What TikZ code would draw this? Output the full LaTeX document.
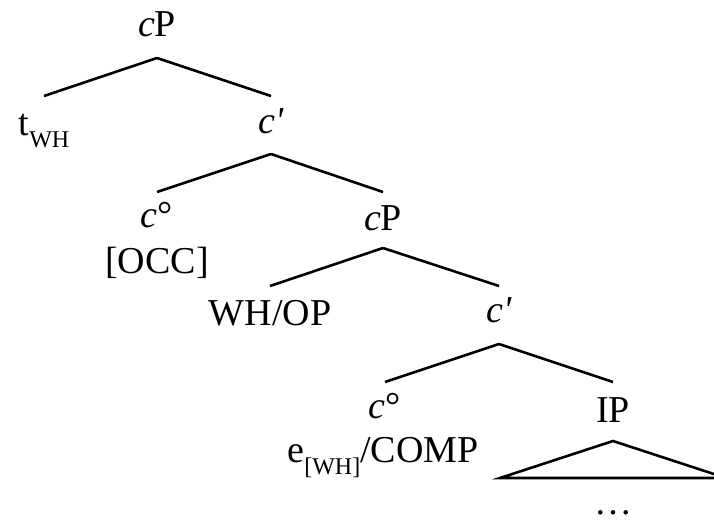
\documentclass[tikz,border=0pt]{standalone}
\usepackage{fontspec}
\setmainfont{Liberation Serif}[Ligatures=TeXOff]
% lowered small-size subscript used in trace labels
\newcommand\lowsub[1]{\raisebox{-12pt}{\fontsize{24}{24}\selectfont #1}}
\begin{document}
\begin{tikzpicture}[x=1pt,y=-1pt,
  lbl/.style={anchor=base,inner sep=0pt,font=\fontsize{38}{40}\selectfont},
  branch/.style={line width=2.6pt}]
\useasboundingbox (0,0) rectangle (714,519);
\clip (0,0) rectangle (714,519);

% labels
\node[lbl] (cP1)    at (157,37)  {\textit{c}P};
\node[lbl] (tWH)    at (44,135)  {t\lowsub{WH}};
\node[lbl] (cbar1)  at (271,133) {\textit{c'}};
\node[lbl] (chead1) at (157,227) {\textit{c}°};
\node[lbl] (occ)    at (157,273) {[OCC]};
\node[lbl] (cP2)    at (383,230) {\textit{c}P};
\node[lbl] (whop)   at (270,325) {WH/OP};
\node[lbl] (cbar2)  at (499,322) {\textit{c'}};
\node[lbl] (chead2) at (385,418) {\textit{c}°};
\node[lbl] (ecomp)  at (383,462) {e\lowsub{[WH]}/COMP};
\node[lbl] (ip)     at (613,422) {IP};
\node[lbl] (dots)   at (613,514) {\dots};

% branches
\draw[branch] ([yshift=-21pt]cP1.base) -- ([yshift=39pt]tWH.base);
\draw[branch] ([yshift=-21pt]cP1.base) -- ([yshift=37pt]cbar1.base);
\draw[branch] ([yshift=-21pt]cbar1.base) -- ([yshift=35pt]chead1.base);
\draw[branch] ([yshift=-21pt]cbar1.base) -- ([yshift=38pt]cP2.base);
\draw[branch] ([yshift=-18pt]cP2.base) -- ([yshift=39pt]whop.base);
\draw[branch] ([yshift=-18pt]cP2.base) -- ([yshift=36pt]cbar2.base);
\draw[branch] ([yshift=-22pt]cbar2.base) -- ([yshift=36pt]chead2.base);
\draw[branch] ([yshift=-22pt]cbar2.base) -- ([yshift=40pt]ip.base);

% roof over the IP
\coordinate (roofL) at (500,478);
\coordinate (roofR) at (726,478);
\draw[branch,line join=miter] (roofL) -- ([yshift=-19pt]ip.base) -- (roofR) -- cycle;
\end{tikzpicture}
\end{document}
